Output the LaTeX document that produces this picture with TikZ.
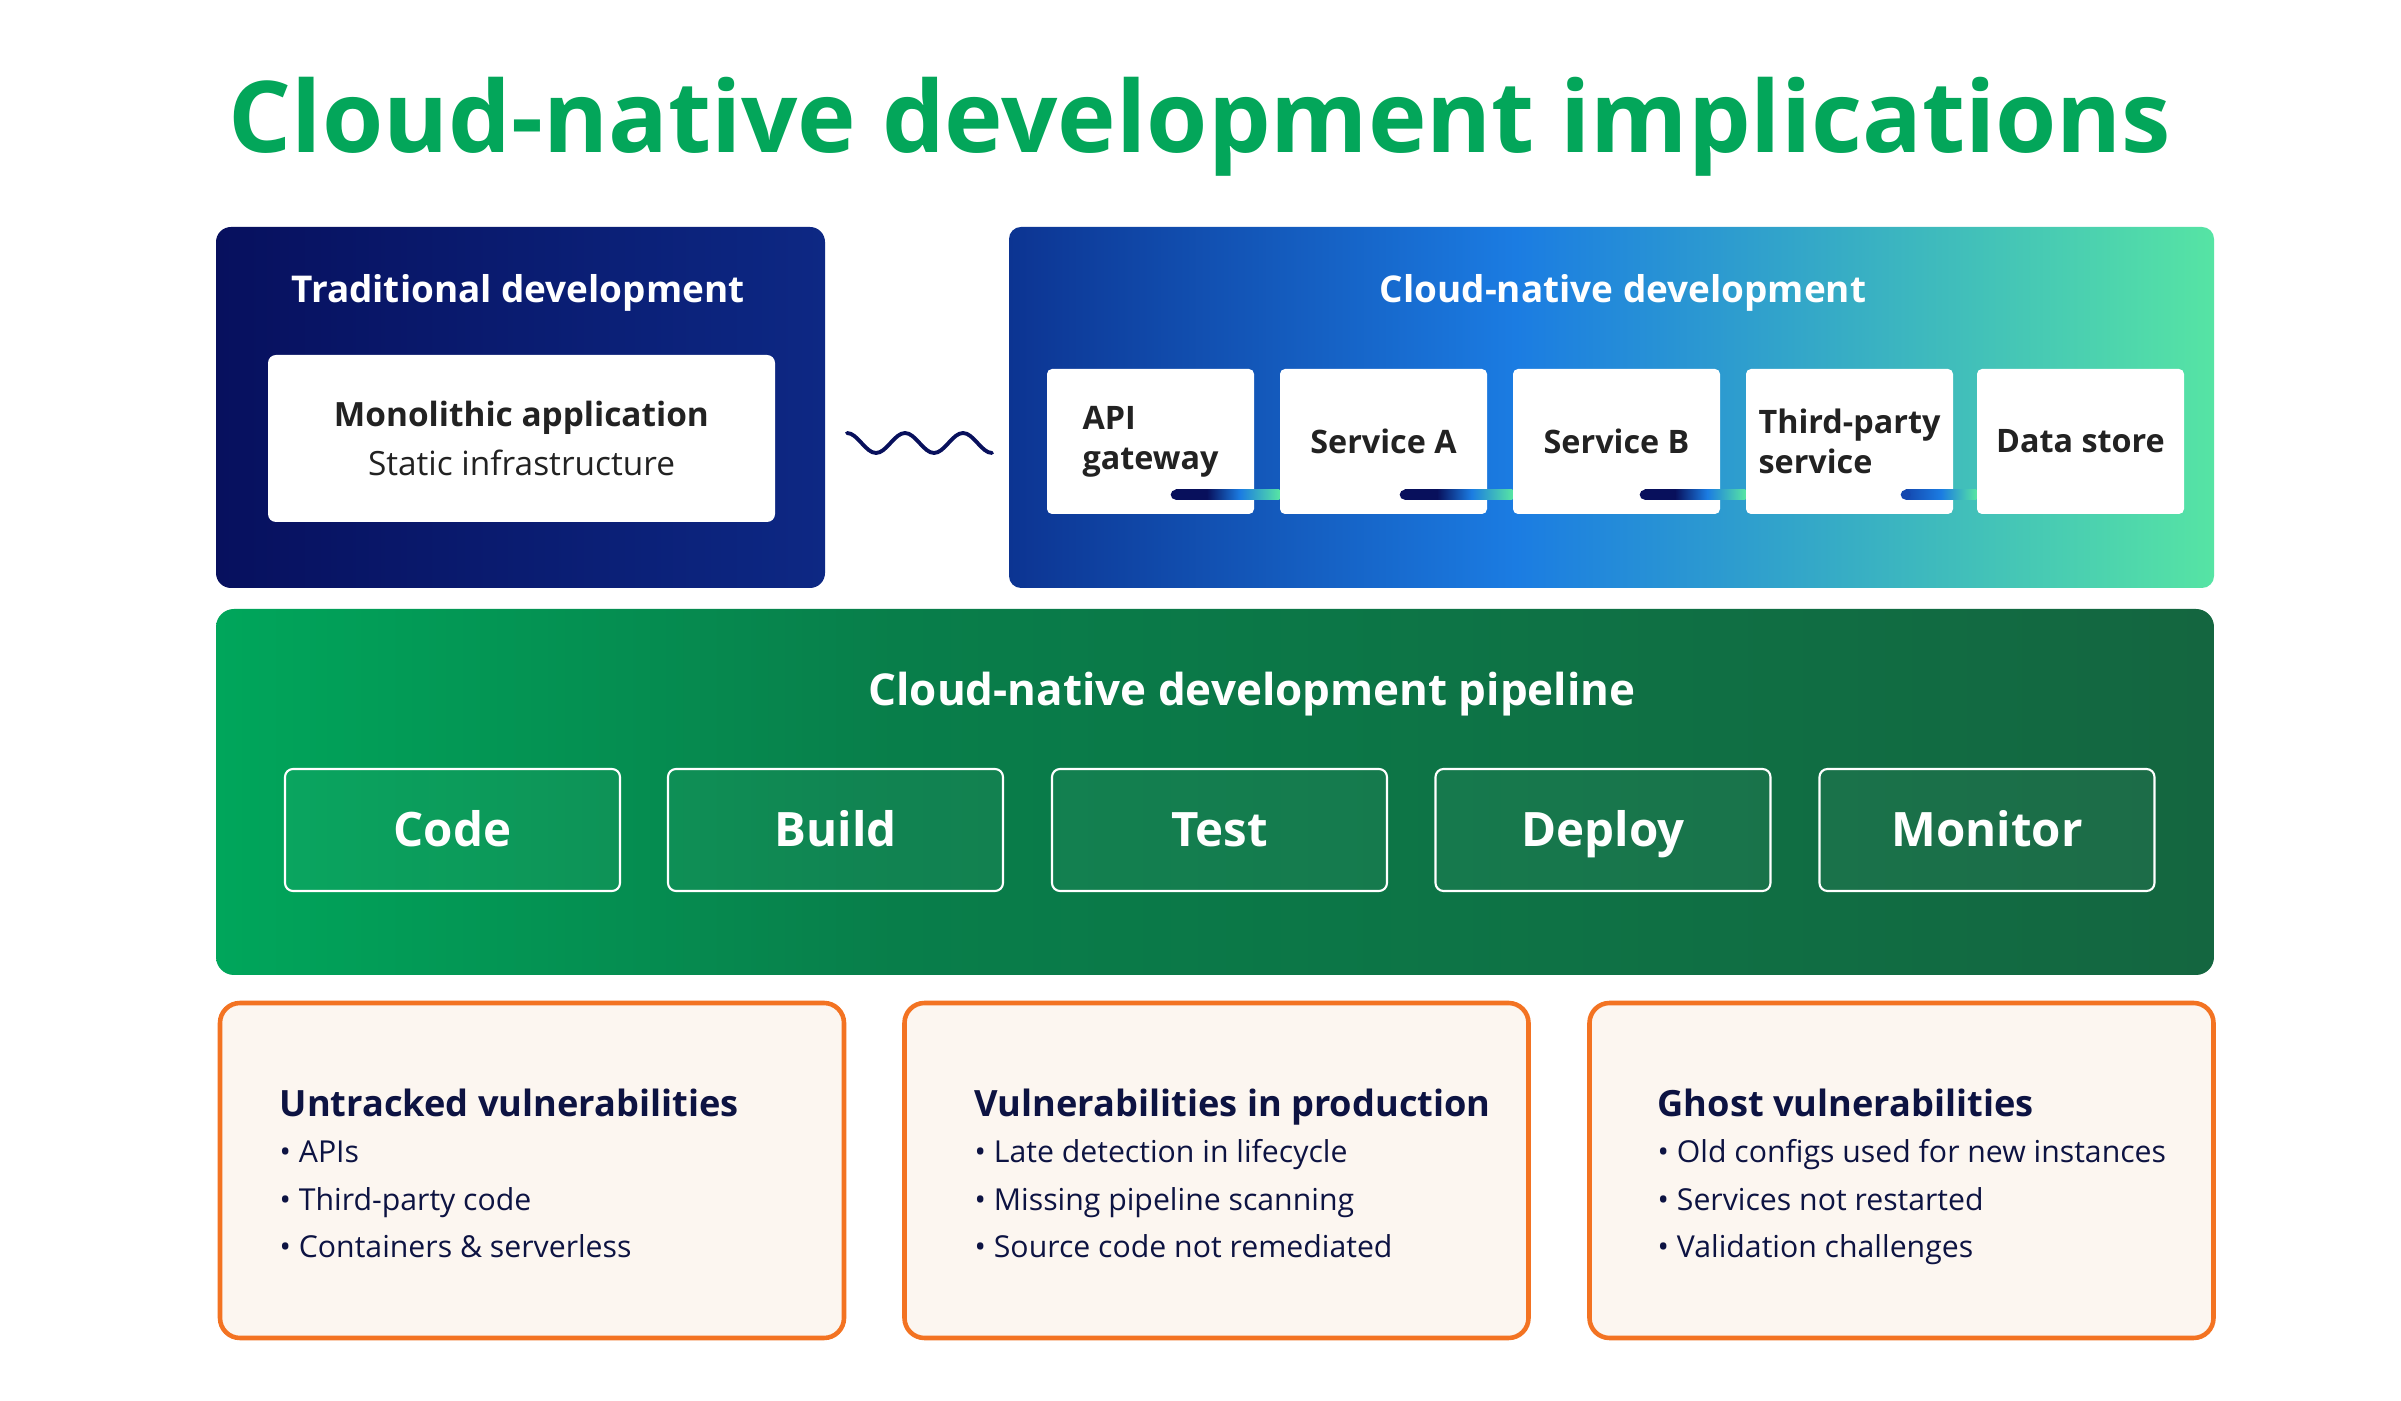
\documentclass[tikz,border=0pt]{standalone}
\usepackage{fontspec}
\setmainfont{Open Sans}
\usepackage{xcolor}
\usepackage{tikz}
\usetikzlibrary{shapes,arrows,positioning,calc}

\definecolor{titlegreen}{RGB}{3,166,90}
\definecolor{tradnavy}{RGB}{7,16,94}
\definecolor{tradblue}{RGB}{13,40,132}
\definecolor{cnDark}{RGB}{12,52,146}
\definecolor{cnMid}{RGB}{27,124,226}
\definecolor{cnLight}{RGB}{86,228,164}
\definecolor{barnavy}{RGB}{8,16,92}
\definecolor{barblue}{RGB}{20,72,175}
\definecolor{pipeLight}{RGB}{0,166,91}
\definecolor{pipeMid}{RGB}{8,126,74}
\definecolor{pipeDark}{RGB}{20,102,64}
\definecolor{riskorange}{RGB}{243,115,34}
\definecolor{riskfill}{RGB}{252,246,240}
\definecolor{inknavy}{RGB}{13,19,66}
\definecolor{inkgrey}{RGB}{34,34,34}

\pgfdeclarehorizontalshading{cloudshade}{100bp}{color(0bp)=(cnDark); color(25bp)=(cnDark); color(46bp)=(cnMid); color(75bp)=(cnLight); color(100bp)=(cnLight)}
\pgfdeclarehorizontalshading{pipeshade}{100bp}{color(0bp)=(pipeLight); color(25bp)=(pipeLight); color(42bp)=(pipeMid); color(75bp)=(pipeDark); color(100bp)=(pipeDark)}
\pgfdeclarehorizontalshading{barshade}{100bp}{color(0bp)=(barnavy); color(40bp)=(barnavy); color(56bp)=(cnMid); color(75bp)=(cnLight); color(100bp)=(cnLight)}
\pgfdeclarehorizontalshading{barshadeb}{100bp}{color(0bp)=(barblue); color(25bp)=(barblue); color(50bp)=(cnMid); color(75bp)=(cnLight); color(100bp)=(cnLight)}

\begin{document}
\begin{tikzpicture}[x=1cm, y=-1cm,
    panel/.style={rectangle, rounded corners=0.15cm, inner sep=0pt},
    card/.style={rectangle, fill=white, rounded corners=0.05cm, minimum width=2.07cm, minimum height=1.45cm,
        text=inkgrey, align=left, font=\fontsize{9.2}{11.4}\selectfont\bfseries},
    caption/.style={anchor=base, inner sep=0pt, text=white, font=\fontsize{10.5}{12}\selectfont\bfseries},
    stage/.style={rectangle, draw=white, line width=0.6pt, fill=white, fill opacity=0.04, text opacity=1,
        rounded corners=0.08cm, minimum width=3.35cm, minimum height=1.22cm, text=white,
        text height=9.6pt, text depth=0pt, font=\fontsize{13.5}{15}\selectfont\bfseries},
    risk/.style={rectangle, draw=riskorange, line width=1.3pt, fill=riskfill, rounded corners=0.2cm,
        minimum width=6.24cm, minimum height=3.35cm},
    riskhead/.style={anchor=base west, inner sep=0pt, text=inknavy, font=\fontsize{10.3}{12}\selectfont\bfseries},
    riskitem/.style={anchor=base west, inner sep=0pt, text=inknavy, font=\fontsize{8.6}{10}\selectfont},
    wave/.style={draw=barnavy, line width=1.1pt, line cap=round}]

    \useasboundingbox (0,0) rectangle (24.01,14.01);
    \fill[white] (0,0) rectangle (24.01,14.01);

    % Title
    \node[anchor=base, inner sep=0pt, text=titlegreen, font=\fontsize{28.2}{32}\selectfont\bfseries] (title) at (12.00,1.53) {Cloud-native development implications};

    % Traditional side
    \node[panel, left color=tradnavy, right color=tradblue, minimum width=6.09cm, minimum height=3.61cm] (trad) at (5.205,4.075) {};
    \node[caption] (tradhead) at (5.18,3.03) {Traditional development};
    \node[card, rounded corners=0.08cm, minimum width=5.07cm, minimum height=1.67cm, align=center,
        font=\fontsize{9.5}{14.2}\selectfont] (mono) at (5.215,4.385) {{\bfseries Monolithic application}\\Static infrastructure};

    % Cloud-native side
    \node[panel, shading=cloudshade, rounded corners=0.12cm, minimum width=12.05cm, minimum height=3.61cm] (cloud) at (16.115,4.075) {};
    \node[caption] (cloudhead) at (16.23,3.03) {Cloud-native development};
    \node[card] (api) at (11.505,4.415) {API\\gateway};
    \node[card] (srva) at (13.835,4.415) {Service A};
    \node[card] (srvb) at (16.165,4.415) {Service B};
    \node[card] (third) at (18.495,4.415) {Third-party\\service};
    \node[card] (store) at (20.805,4.415) {Data store};

    % Links between services
    \fill[shading=barshade] ($(api.south east)+(-0.79,-0.25)$) rectangle ($(srva.south west)+(0,-0.15)$);
    \fill[barnavy] ($(api.south east)+(-0.79,-0.20)$) circle (0.05cm);
    \fill[shading=barshade] ($(srva.south east)+(-0.83,-0.25)$) rectangle ($(srvb.south west)+(0,-0.15)$);
    \fill[barnavy] ($(srva.south east)+(-0.83,-0.20)$) circle (0.05cm);
    \fill[shading=barshade] ($(srvb.south east)+(-0.76,-0.25)$) rectangle ($(third.south west)+(0,-0.15)$);
    \fill[barnavy] ($(srvb.south east)+(-0.76,-0.20)$) circle (0.05cm);
    \fill[shading=barshadeb] ($(third.south east)+(-0.48,-0.25)$) rectangle ($(store.south west)+(0,-0.15)$);
    \fill[barblue] ($(third.south east)+(-0.48,-0.20)$) circle (0.05cm);

    % Wave between the two sides
    \coordinate (wavestart) at (8.47,4.33);
    \draw[wave] (wavestart) cos ++(0.145,0.1) sin ++(0.145,0.1) cos ++(0.145,-0.1) sin ++(0.145,-0.1)
        cos ++(0.145,0.1) sin ++(0.145,0.1) cos ++(0.145,-0.1) sin ++(0.145,-0.1)
        cos ++(0.145,0.1) sin ++(0.145,0.1);

    % Pipeline
    \node[panel, shading=pipeshade, rounded corners=0.18cm, minimum width=19.98cm, minimum height=3.66cm] (pipe) at (12.15,7.92) {};
    \node[caption, font=\fontsize{12.5}{14}\selectfont\bfseries] (pipehead) at (12.52,7.06) {Cloud-native development pipeline};
    \node[stage] (code) at (4.525,8.30) {Code};
    \node[stage] (build) at (8.355,8.30) {Build};
    \node[stage] (test) at (12.195,8.30) {Test};
    \node[stage] (deploy) at (16.03,8.30) {Deploy};
    \node[stage] (monitor) at (19.87,8.30) {Monitor};

    % Risks
    \node[risk] (untracked) at (5.32,11.705) {};
    \node[riskhead] (untrhead) at (2.79,11.17) {Untracked vulnerabilities};
    \node[riskitem] (untra) at (2.79,11.63) {• APIs};
    \node[riskitem] (untrb) at (2.79,12.10) {• Third-party code};
    \node[riskitem] (untrc) at (2.79,12.58) {• Containers \& serverless};

    \node[risk] (prod) at (12.165,11.705) {};
    \node[riskhead] (prodhead) at (9.74,11.17) {Vulnerabilities in production};
    \node[riskitem] (proda) at (9.74,11.63) {• Late detection in lifecycle};
    \node[riskitem] (prodb) at (9.74,12.10) {• Missing pipeline scanning};
    \node[riskitem] (prodc) at (9.74,12.58) {• Source code not remediated};

    \node[risk] (ghost) at (19.015,11.705) {};
    \node[riskhead] (ghosthead) at (16.57,11.17) {Ghost vulnerabilities};
    \node[riskitem] (ghosta) at (16.57,11.63) {• Old configs used for new instances};
    \node[riskitem] (ghostb) at (16.57,12.10) {• Services not restarted};
    \node[riskitem] (ghostc) at (16.57,12.58) {• Validation challenges};

\end{tikzpicture}
\end{document}
